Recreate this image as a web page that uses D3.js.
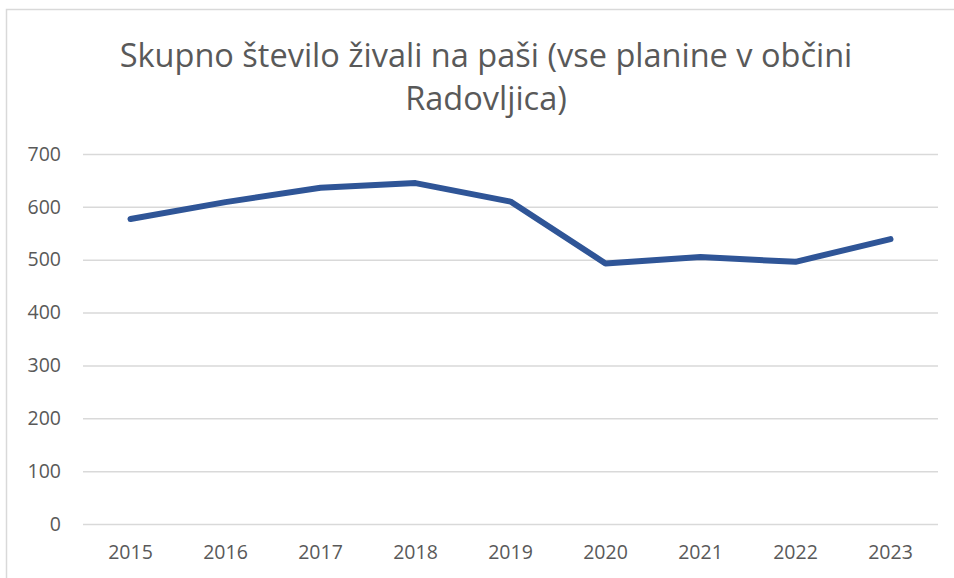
<!DOCTYPE html>
<html>
<head>
<meta charset="utf-8">
<script src="https://cdn.jsdelivr.net/npm/d3@7"></script>
<style>
  body { margin: 0; background: #fff; }
  svg text { font-family: "Open Sans", "Noto Sans", sans-serif; fill: #595959; }
</style>
</head>
<body>
<svg id="chart" width="954" height="578"></svg>
<script>
const width = 954;
const height = 578;

const titleLines = ["Skupno število živali na paši (vse planine v občini", "Radovljica)"];
const years = ["2015", "2016", "2017", "2018", "2019", "2020", "2021", "2022", "2023"];
const animals = [577, 609, 636, 645, 610, 493, 505, 496, 539];
const yTicks = [0, 100, 200, 300, 400, 500, 600, 700];

const svg = d3.select("#chart");

// outer frame of the chart area
svg.append("rect")
    .attr("x", 6.5)
    .attr("y", 9.5)
    .attr("width", 1000)
    .attr("height", 1000)
    .attr("fill", "none")
    .attr("stroke", "#d9d9d9")
    .attr("stroke-width", 1.5);

const x = d3.scaleBand()
    .domain(years)
    .range([83, 938]);

const y = d3.scaleLinear()
    .domain([0, 700])
    .range([524, 154]);

// title
svg.selectAll(".title")
    .data(titleLines)
    .enter()
    .append("text")
    .attr("class", "title")
    .attr("x", 486)
    .attr("y", (d, i) => 67 + i * 43)
    .attr("text-anchor", "middle")
    .style("font-size", "32.5px")
    .text(d => d);

// gridlines
svg.append("g")
    .attr("transform", "translate(83,0)")
    .call(d3.axisLeft(y).tickValues(yTicks).tickSize(-(938 - 83)).tickFormat(""))
    .call(g => g.select(".domain").remove())
    .call(g => g.selectAll("line").attr("stroke", "#d9d9d9").attr("stroke-width", 1.5));

// y labels
svg.append("g")
    .attr("transform", "translate(61,0)")
    .call(d3.axisLeft(y).tickValues(yTicks).tickSize(0).tickPadding(0))
    .call(g => g.select(".domain").remove())
    .call(g => g.selectAll("text").style("font-size", "19.5px").attr("fill", "#595959"));

// x labels
svg.append("g")
    .attr("transform", "translate(0,524)")
    .call(d3.axisBottom(x).tickSize(0).tickPadding(21))
    .call(g => g.select(".domain").remove())
    .call(g => g.selectAll("text").style("font-size", "19.5px").attr("fill", "#595959"));

const line = d3.line()
    .x((d, i) => x(years[i]) + x.bandwidth() / 2)
    .y(d => y(d));

svg.append("path")
    .datum(animals)
    .attr("d", line)
    .attr("fill", "none")
    .attr("stroke", "#2f5597")
    .attr("stroke-width", 6)
    .attr("stroke-linecap", "round")
    .attr("stroke-linejoin", "round");
</script>
</body>
</html>
